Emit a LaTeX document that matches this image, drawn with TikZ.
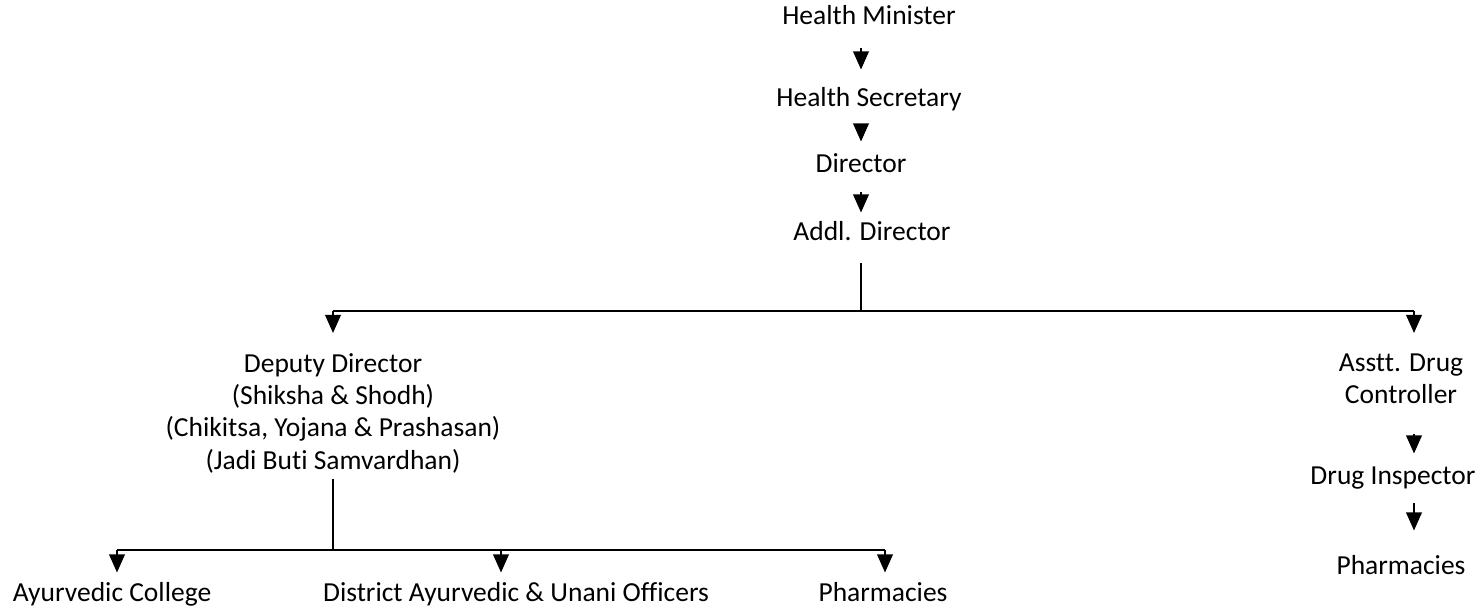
\documentclass[tikz,border=0pt]{standalone}
\usepackage{fontspec}
\setmainfont{Carlito}[Ligatures=NoCommon]
\usetikzlibrary{arrows.meta}

\begin{document}
\begin{tikzpicture}[x=0.4pt,y=-0.4pt,
	every node/.style={font=\fontsize{11}{12.9}\selectfont, inner sep=0pt},
	lbl/.style={anchor=base, text height=8pt, text depth=2.2pt},
	blk/.style={anchor=north, align=center},
	arr/.style={line width=0.8pt, -{Triangle[length=7.2pt,width=6.2pt]}},
	ln/.style={line width=0.8pt}]
			\useasboundingbox (0,0) rectangle (1481,611);
			% top chain
			\node[lbl] (hm) at (869,25) {Health Minister};
			\node[lbl] (hs) at (869,107) {Health Secretary};
			\node[lbl] (dir) at (861,173) {Director};
			\node[lbl] (ad) at (872,241) {Addl. Director};
			\foreach \a/\b/\s/\e in {hm/hs/7pt/6.8pt,hs/dir/4.6pt/4.4pt,dir/ad/5.4pt/3.2pt}{
				\draw[arr, shorten <=\s, shorten >=\e] (\a.south -| dir) -- (\b.north -| dir);
			}
			
			% first branching
			\coordinate (t) at (861,311);
			\coordinate (tl) at (333,311);
			\coordinate (tr) at (1414,311);
			\draw[ln, shorten <=6.6pt] (ad.south -| t) -- (t);
			\draw[ln] (tl) -- (tr);
			\node[blk] (dd) at (333,353) {Deputy Director\\(Shiksha \& Shodh)\\(Chikitsa, Yojana \& Prashasan)\\(Jadi Buti Samvardhan)};
			\node[blk] (adc) at (1401,353) {Asstt. Drug\\Controller};
			\node[lbl] (di) at (1393,485) {Drug Inspector};
			\node[lbl] (phr) at (1401,575) {Pharmacies};
			\draw[arr, shorten >=8pt] (tl) -- (dd.north);
			\draw[arr, shorten >=8pt] (tr) -- (adc.north -| tr);
			\draw[arr, shorten <=12pt, shorten >=4.4pt] (adc.south -| tr) -- (di.north -| tr);
			\draw[arr, shorten <=5pt, shorten >=9.6pt] (di.south -| tr) -- (phr.north -| tr);
			
			% second branching
			\coordinate (b) at (333,550);
			\coordinate (bl) at (117,550);
			\coordinate (bm) at (501,550);
			\coordinate (br) at (885,550);
			\draw[ln, shorten <=2.2pt] (dd.south) -- (b);
			\draw[ln] (bl) -- (br);
			\node[lbl] (ac) at (112,602) {Ayurvedic College};
			\node[lbl] (dao) at (516,602) {District Ayurvedic \& Unani Officers};
			\node[lbl] (phl) at (883,602) {Pharmacies};
			\foreach \n/\c in {ac/bl,dao/bm,phl/br}{
				\draw[arr, shorten >=3.6pt] (\c) -- (\n.north -| \c);
			}
		\end{tikzpicture}
\end{document}
